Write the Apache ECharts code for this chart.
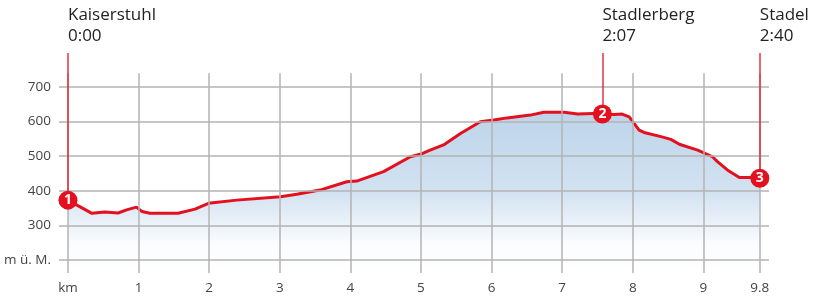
<!DOCTYPE html>
<html lang="de">
<head>
<meta charset="UTF-8">
<title>Höhenprofil</title>
<style>
  html, body { margin: 0; padding: 0; background: #fff; }
  #chart { width: 819px; height: 304px; }
</style>
</head>
<body>
<div id="chart"></div>
<script src="https://cdn.jsdelivr.net/npm/echarts@6/dist/echarts.min.js"></script>
<script>
// Profilpunkte (km / m ü. M.)
var distance = [0, 0.14, 0.34, 0.52, 0.71, 0.83, 0.97, 1.05, 1.16, 1.56, 1.80, 1.99, 2.39, 3.01, 3.24, 3.57,
  3.95, 4.09, 4.47, 4.85, 4.99, 5.13, 5.32, 5.56, 5.84, 6.03, 6.22, 6.55, 6.74, 7.03, 7.22, 7.45, 7.57,
  7.74, 7.85, 7.95, 8.09, 8.16, 8.40, 8.54, 8.66, 8.92, 9.13, 9.20, 9.34, 9.51, 9.67, 9.8];
var elevation = [373, 357, 335, 339, 336, 345, 353, 340, 335, 335, 347, 364, 373, 383, 390, 402,
  426, 428, 455, 498, 505, 517, 532, 565, 599, 604, 610, 618, 626, 626, 621, 623, 621,
  620, 621, 613, 575, 568, 556, 548, 534, 517, 498, 484, 460, 438, 438, 436];

// Wegpunkte
var wpNames = ['Kaiserstuhl', 'Stadlerberg', 'Stadel'];
var wpTimes = ['0:00', '2:07', '2:40'];
var wpKm = [0, 7.57, 9.8];
var wpElev = [373, 621, 436];

// Achsen
var xTicks = [0, 1, 2, 3, 4, 5, 6, 7, 8, 9, 9.8];
var yTicks = [200, 300, 400, 500, 600, 700];

var xMin = -0.127, xMax = 9.93;
var yMin = 163, yMax = 797, gridTop = 739;
var red = '#e3101f';
var gray = '#b3b3b3';

var profile = distance.map(function (d, i) { return [d, elevation[i]]; });

// Gitterlinien
var gridLines = [];
yTicks.forEach(function (v) {
  gridLines.push([{ coord: [xMin, v] }, { coord: [xMax, v] }]);
});
xTicks.forEach(function (k) {
  gridLines.push([{ coord: [k, yMin] }, { coord: [k, gridTop] }]);
});

// rote Linien zu den Wegpunkten
var wpLines = wpKm.map(function (k, i) {
  return [{ coord: [k, wpElev[i]] }, { coord: [k, yMax] }];
});
var wpDots = wpKm.map(function (k, i) {
  return { coord: [k, wpElev[i]], value: i + 1 };
});
var wpLabels = wpKm.map(function (k, i) {
  return { coord: [k, yMax], value: wpNames[i] + '\n' + wpTimes[i] };
});

var chart = echarts.init(document.getElementById('chart'));
var option = {
  animation: false,
  textStyle: { fontFamily: 'Open Sans' },
  grid: { left: 59, right: 50, top: 53, bottom: 31 },
  xAxis: {
    type: 'value',
    min: xMin,
    max: xMax,
    axisLine: { show: false },
    axisTick: { show: false },
    splitLine: { show: false },
    axisLabel: {
      customValues: xTicks,
      margin: 8,
      fontSize: 13.5,
      color: '#444',
      formatter: function (v) { return v === 0 ? 'km' : String(v); }
    }
  },
  yAxis: {
    type: 'value',
    min: yMin,
    max: yMax,
    axisLine: { show: false },
    axisTick: { show: false },
    splitLine: { show: false },
    axisLabel: {
      customValues: yTicks,
      margin: 8,
      fontSize: 13.5,
      color: '#444',
      formatter: function (v) { return v === 200 ? 'm ü. M.' : String(v); }
    }
  },
  series: [
    {
      // Fläche
      type: 'line',
      z: 1,
      data: profile,
      symbol: 'none',
      lineStyle: { width: 0 },
      areaStyle: {
        origin: 'start',
        opacity: 1,
        color: new echarts.graphic.LinearGradient(0, 0, 0, 1, [
          { offset: 0, color: '#bcd4ea' },
          { offset: 0.5, color: '#d3e2f1' },
          { offset: 0.82, color: '#fbfcfe' },
          { offset: 1, color: '#ffffff' }
        ])
      }
    },
    {
      // Gitter
      type: 'line',
      z: 2,
      data: [],
      markLine: {
        silent: true,
        symbol: ['none', 'none'],
        label: { show: false },
        lineStyle: { color: gray, width: 1.5, type: 'solid' },
        data: gridLines
      }
    },
    {
      type: 'line',
      z: 3,
      data: profile,
      symbol: 'none',
      lineStyle: { color: red, width: 3 },
      markLine: {
        silent: true,
        symbol: ['none', 'none'],
        label: { show: false },
        lineStyle: { color: red, width: 1.5, type: 'solid', opacity: 0.85 },
        data: wpLines
      }
    },
    {
      type: 'line',
      z: 4,
      data: [],
      markPoint: {
        silent: true,
        data: wpDots,
        symbol: 'circle',
        symbolSize: 19,
        itemStyle: { color: red },
        label: { show: true, color: '#fff', fontWeight: 'bold', fontSize: 14, formatter: '{c}' }
      }
    },
    {
      type: 'line',
      z: 4,
      data: [],
      markPoint: {
        silent: true,
        data: wpLabels,
        symbol: 'circle',
        symbolSize: 0,
        label: {
          show: true,
          position: 'top',
          align: 'left',
          distance: 6,
          fontSize: 17,
          fontWeight: 500,
          lineHeight: 21,
          color: '#222',
          formatter: '{c}'
        }
      }
    }
  ]
};
chart.setOption(option);
</script>
</body>
</html>
